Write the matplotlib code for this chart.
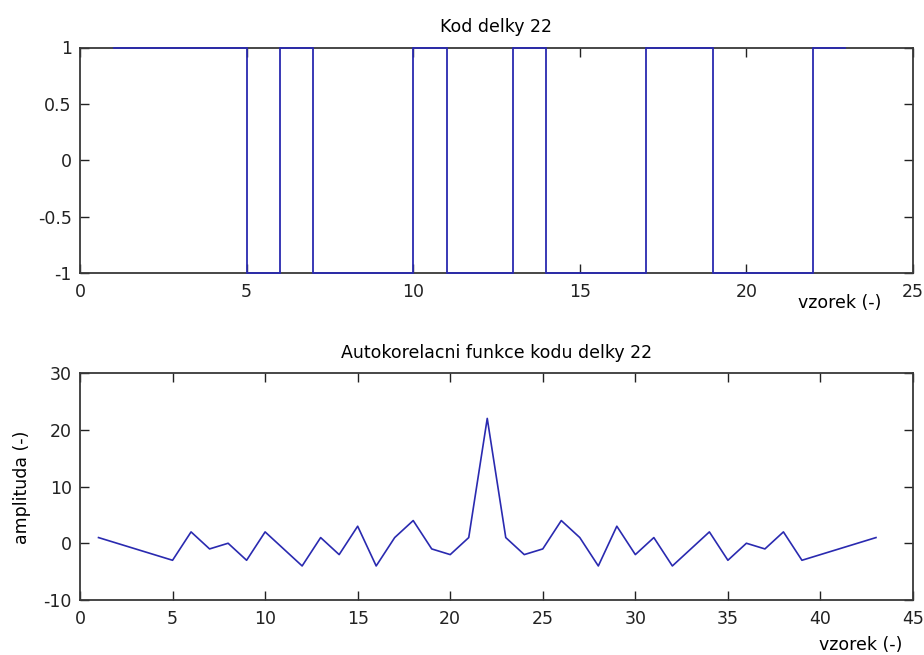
import matplotlib
matplotlib.use("Agg")
import matplotlib.pyplot as plt
import numpy as np

plt.rcParams["font.family"] = ["DejaVu Sans"]
plt.rcParams["font.size"] = 12.5
plt.rcParams["axes.unicode_minus"] = False

LINE_COLOR = "#2a2ab0"
FS = 12.5

# code of length 22 (values at samples 1..22)
code = [1, 1, 1, 1, -1, 1, -1, -1, -1, 1, -1, -1, 1, -1, -1, -1, 1, 1, -1, -1, -1, 1]

# autocorrelation (samples 1..43)
acf = [1, 0, -1, -2, -3, 2, -1, 0, -3, 2, -1, -4, 1, -2, 3, -4, 1, 4, -1, -2, 1,
       22, 1, -2, -1, 4, 1, -4, 3, -2, 1, -4, -1, 2, -3, 0, -1, 2, -3, -2, -1, 0, 1]


def style_axes(ax):
    ax.tick_params(direction="in", length=6.5, top=True, right=True, width=1,
                   colors="#222222", labelsize=FS)
    ax.tick_params(axis="y", pad=6)
    ax.tick_params(axis="x", pad=7)
    for side in ax.spines.values():
        side.set_color("#383838")
        side.set_linewidth(1.3)


fig = plt.figure(figsize=(9.24, 6.55), dpi=100)
W, H = 924, 655

# top: code as stairs (drawn above the frame, like the reference)
ax1 = fig.add_axes([80 / W, 1 - 273 / H, (913 - 80) / W, (273 - 47.5) / H])
x_code = np.arange(1, len(code) + 2)
ax1.stairs(code, x_code, baseline=None, color=LINE_COLOR, linewidth=1.3,
           zorder=3, clip_on=False)
ax1.set_xlim(0, 25)
ax1.set_ylim(-1, 1)
ax1.set_xticks([0, 5, 10, 15, 20, 25])
ax1.set_yticks([-1, -0.5, 0, 0.5, 1])
ax1.set_yticklabels(["-1", "-0.5", "0", "0.5", "1"])
ax1.set_title("Kod delky 22", fontsize=FS, pad=11)
style_axes(ax1)
fig.text(840 / W, 1 - 303 / H, "vzorek (-)", ha="center", va="center", fontsize=FS)

# bottom: autocorrelation
ax2 = fig.add_axes([80 / W, 1 - 600 / H, (913 - 80) / W, (600 - 373) / H])
x_acf = np.arange(1, len(acf) + 1)
ax2.plot(x_acf, acf, color=LINE_COLOR, linewidth=1.2, zorder=3)
ax2.set_xlim(0, 45)
ax2.set_ylim(-10, 30)
ax2.set_xticks(np.arange(0, 46, 5))
ax2.set_yticks([-10, 0, 10, 20, 30])
ax2.set_title("Autokorelacni funkce kodu delky 22", fontsize=FS, pad=11)
style_axes(ax2)
fig.text(22 / W, 1 - 487 / H, "amplituda (-)", rotation=90, ha="center", va="center", fontsize=FS)
fig.text(861 / W, 1 - 645 / H, "vzorek (-)", ha="center", va="center", fontsize=FS)

fig.savefig("out.png", dpi=100)
